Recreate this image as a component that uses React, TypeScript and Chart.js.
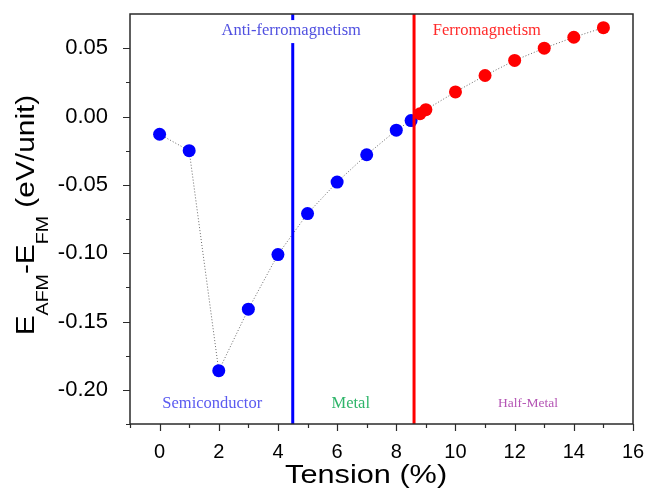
import React, { useEffect, useRef } from "react";
import { Chart, registerables } from "chart.js";

Chart.register(...registerables);

// ---- data ----
const TENSION_AFM = [0, 1, 2, 3, 4, 5, 6, 7, 8, 8.5];
const ENERGY_AFM = [-0.013, -0.025, -0.186, -0.141, -0.101, -0.071, -0.048, -0.028, -0.01, -0.003];
const TENSION_FM = [8.8, 9, 10, 11, 12, 13, 14, 15];
const ENERGY_FM = [0.002, 0.005, 0.018, 0.03, 0.041, 0.05, 0.058, 0.065];
const BOUNDARY_SEMI_METAL = 4.5;
const BOUNDARY_AFM_FM = 8.6;
const X_MAJOR = [0, 2, 4, 6, 8, 10, 12, 14, 16];
const X_MINOR = [-1, 1, 3, 5, 7, 9, 11, 13, 15];
const Y_MAJOR = [-0.2, -0.15, -0.1, -0.05, 0, 0.05];
const Y_MINOR = [-0.225, -0.175, -0.125, -0.075, -0.025, 0.025];
const X_RANGE = [-1, 16];
const Y_RANGE = [-0.225, 0.075];
const REGION_LABELS = ["Semiconductor", "Metal", "Half-Metal"];
const PHASE_LABELS = ["Anti-ferromagnetism", "Ferromagnetism"];

const SANS = "'Liberation Sans', Arial, sans-serif";
const SERIF = "'Liberation Serif', 'Times New Roman', serif";

const toPts = (xs: number[], ys: number[]) => xs.map((x, i) => ({ x, y: ys[i] }));

const zeroPad = (s: any) => {
  s.paddingTop = 0;
  s.paddingBottom = 0;
  s.paddingLeft = 0;
  s.paddingRight = 0;
};

const customPlugin = {
  id: "custom",
  beforeDraw(chart: any) {
    const ctx = chart.ctx;
    ctx.save();
    ctx.fillStyle = "#ffffff";
    ctx.fillRect(0, 0, chart.width, chart.height);
    ctx.restore();
  },
  afterDatasetsDraw(chart: any) {
    const ctx = chart.ctx;
    const xs = chart.scales.x;
    const ys = chart.scales.y;
    ctx.save();
    // top phase labels
    const topY = ys.getPixelForValue(0.0625);
    ctx.font = `16.5px ${SERIF}`;
    ctx.textAlign = "center";
    ctx.textBaseline = "middle";
    const afmX = xs.getPixelForValue(4.45);
    const w = ctx.measureText(PHASE_LABELS[0]).width;
    ctx.fillStyle = "#ffffff";
    ctx.fillRect(afmX - w / 2 - 5, topY - 11, w + 10, 23);
    ctx.fillStyle = "#5050e0";
    ctx.fillText(PHASE_LABELS[0], afmX, topY);
    ctx.fillStyle = "#ff2a2a";
    ctx.fillText(PHASE_LABELS[1], xs.getPixelForValue(11.06), topY);
    // bottom region labels
    const botY = ys.getPixelForValue(-0.21);
    ctx.font = `16.5px ${SERIF}`;
    ctx.fillStyle = "#5a5af0";
    ctx.fillText(REGION_LABELS[0], xs.getPixelForValue(1.78), botY);
    ctx.fillStyle = "#2fb56a";
    ctx.fillText(REGION_LABELS[1], xs.getPixelForValue(6.46), botY);
    ctx.font = `13.5px ${SERIF}`;
    ctx.fillStyle = "#b454b4";
    ctx.fillText(REGION_LABELS[2], xs.getPixelForValue(12.45), botY);
    ctx.restore();
  },
  afterDraw(chart: any) {
    const ctx = chart.ctx;
    const a = chart.chartArea;
    const xs = chart.scales.x;
    const ys = chart.scales.y;
    ctx.save();
    ctx.strokeStyle = "#2a2a2a";
    ctx.lineWidth = 1.5;
    ctx.strokeRect(a.left, a.top, a.right - a.left, a.bottom - a.top);
    ctx.lineWidth = 1.2;
    ctx.beginPath();
    X_MAJOR.forEach((v) => {
      const p = Math.round(xs.getPixelForValue(v)) + 0.5;
      ctx.moveTo(p, a.bottom);
      ctx.lineTo(p, a.bottom + 7);
    });
    X_MINOR.forEach((v) => {
      const p = Math.round(xs.getPixelForValue(v)) + 0.5;
      ctx.moveTo(p, a.bottom);
      ctx.lineTo(p, a.bottom + 4);
    });
    Y_MAJOR.forEach((v) => {
      const p = Math.round(ys.getPixelForValue(v)) + 0.5;
      ctx.moveTo(a.left, p);
      ctx.lineTo(a.left - 7, p);
    });
    Y_MINOR.forEach((v) => {
      const p = Math.round(ys.getPixelForValue(v)) + 0.5;
      ctx.moveTo(a.left, p);
      ctx.lineTo(a.left - 4, p);
    });
    ctx.stroke();

    // x title
    ctx.fillStyle = "#000000";
    ctx.textBaseline = "alphabetic";
    ctx.textAlign = "center";
    ctx.save();
    ctx.translate(xs.getPixelForValue(6.98), 483);
    ctx.scale(1.18, 1);
    ctx.font = `26px ${SANS}`;
    ctx.fillText("Tension (%)", 0, 0);
    ctx.restore();

    // y title with subscripts
    const parts = [
      { t: "E", sub: false },
      { t: "AFM", sub: true },
      { t: "-E", sub: false },
      { t: "FM", sub: true },
      { t: " (eV/unit)", sub: false },
    ];
    const mainFont = `26px ${SANS}`;
    const subFont = `17px ${SANS}`;
    let total = 0;
    parts.forEach((p) => {
      ctx.font = p.sub ? subFont : mainFont;
      total += ctx.measureText(p.t).width;
    });
    ctx.save();
    ctx.translate(34, (a.top + a.bottom) / 2 - 4);
    ctx.rotate(-Math.PI / 2);
    ctx.scale(1.15, 1);
    ctx.textAlign = "left";
    let cx = -total / 2;
    parts.forEach((p) => {
      ctx.font = p.sub ? subFont : mainFont;
      ctx.fillText(p.t, cx, p.sub ? 14 : 0);
      cx += ctx.measureText(p.t).width;
    });
    ctx.restore();
    ctx.restore();
  },
};

export default function App() {
  const ref = useRef<HTMLCanvasElement | null>(null);
  useEffect(() => {
    if (!ref.current) return;
    const allPts = toPts(TENSION_AFM, ENERGY_AFM).concat(toPts(TENSION_FM, ENERGY_FM));
    const chart = new Chart(ref.current, {
      type: "scatter",
      data: {
        datasets: [
          {
            label: "trend",
            data: allPts,
            showLine: true,
            borderColor: "#6a6a6a",
            borderWidth: 1,
            borderDash: [1, 2],
            pointRadius: 0,
            order: 4,
          },
          {
            label: "AFM",
            data: toPts(TENSION_AFM, ENERGY_AFM),
            backgroundColor: "#0000ff",
            borderColor: "#0000ff",
            pointRadius: 6.5,
            borderWidth: 0,
            order: 3,
          },
          {
            label: "semi-metal",
            data: [
              { x: BOUNDARY_SEMI_METAL, y: Y_RANGE[0] },
              { x: BOUNDARY_SEMI_METAL, y: Y_RANGE[1] },
            ],
            showLine: true,
            borderColor: "#0000ff",
            borderWidth: 3,
            pointRadius: 0,
            order: 2,
          },
          {
            label: "afm-fm",
            data: [
              { x: BOUNDARY_AFM_FM, y: Y_RANGE[0] },
              { x: BOUNDARY_AFM_FM, y: Y_RANGE[1] },
            ],
            showLine: true,
            borderColor: "#ff0000",
            borderWidth: 3,
            pointRadius: 0,
            order: 2,
          },
          {
            label: "FM",
            data: toPts(TENSION_FM, ENERGY_FM),
            backgroundColor: "#ff0000",
            borderColor: "#ff0000",
            pointRadius: 6.5,
            borderWidth: 0,
            order: 1,
          },
        ],
      },
      options: {
        animation: false,
        responsive: false,
        maintainAspectRatio: false,
        layout: { padding: { top: 14, right: 16, left: 0, bottom: 0 } },
        plugins: { legend: { display: false }, tooltip: { enabled: false } },
        scales: {
          x: {
            type: "linear",
            min: X_RANGE[0],
            max: X_RANGE[1],
            grid: { display: false },
            border: { display: false },
            afterBuildTicks: (s: any) => {
              s.ticks = X_MAJOR.map((v) => ({ value: v }));
            },
            afterFit: (s: any) => {
              s.height = 68;
              zeroPad(s);
            },
            ticks: {
              color: "#000",
              padding: 8,
              maxRotation: 0,
              autoSkip: false,
              font: { family: SANS, size: 20 },
              callback: (v: any) => String(v),
            },
          },
          y: {
            type: "linear",
            min: Y_RANGE[0],
            max: Y_RANGE[1],
            grid: { display: false },
            border: { display: false },
            afterBuildTicks: (s: any) => {
              s.ticks = Y_MAJOR.map((v) => ({ value: v }));
            },
            afterFit: (s: any) => {
              s.width = 130;
              zeroPad(s);
            },
            ticks: {
              color: "#000",
              padding: 14,
              autoSkip: false,
              font: { family: SANS, size: 22 },
              callback: (v: any) => Number(v).toFixed(2),
            },
          },
        },
      },
      plugins: [customPlugin],
    } as any);
    return () => chart.destroy();
  }, []);
  return (
    <div style={{ position: "fixed", left: 0, top: 0, width: 649, height: 492 }}>
      <canvas ref={ref} width={649} height={492} style={{ display: "block" }} />
    </div>
  );
}
